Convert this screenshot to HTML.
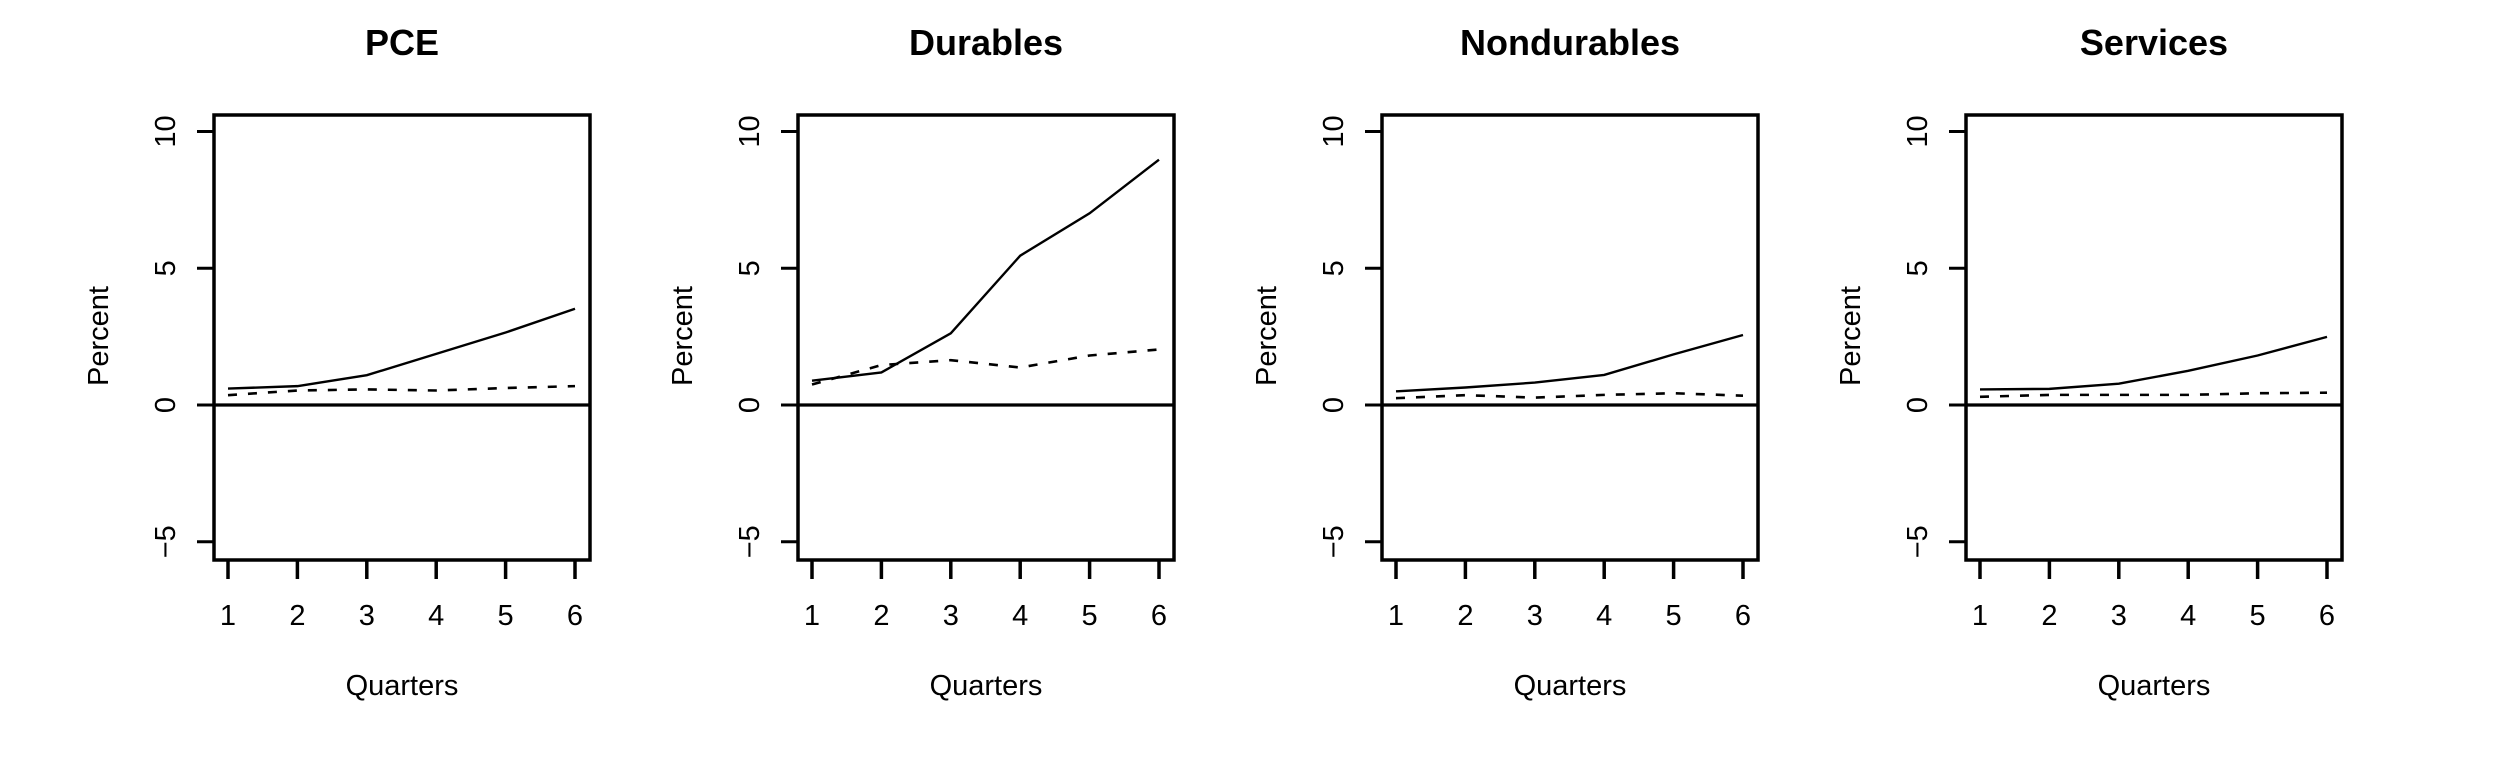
<!DOCTYPE html>
<html><head><meta charset="utf-8"><style>
html,body{margin:0;padding:0;background:#fff;}
svg{display:block;font-family:"Liberation Sans",Arial,sans-serif;}
</style></head><body>
<svg id="chart" width="2519" height="765" viewBox="0 0 2519 765" xmlns="http://www.w3.org/2000/svg"></svg>
<script>
const panelTitles = ["PCE", "Durables", "Nondurables", "Services"];
const quarters = [1, 2, 3, 4, 5, 6];
const yTicks = [-5, 0, 5, 10];
const solidPCE = [0.60, 0.69, 1.09, 1.87, 2.65, 3.52];
const dashedPCE = [0.36, 0.53, 0.57, 0.53, 0.62, 0.69];
const solidDurables = [0.89, 1.19, 2.62, 5.46, 7.01, 8.97];
const dashedDurables = [0.75, 1.46, 1.64, 1.37, 1.81, 2.03];
const solidNondurables = [0.50, 0.64, 0.82, 1.10, 1.85, 2.56];
const dashedNondurables = [0.25, 0.36, 0.27, 0.37, 0.43, 0.34];
const solidServices = [0.57, 0.59, 0.78, 1.25, 1.81, 2.49];
const dashedServices = [0.30, 0.37, 0.37, 0.37, 0.43, 0.45];
const solidSeries = [solidPCE, solidDurables, solidNondurables, solidServices];
const dashedSeries = [dashedPCE, dashedDurables, dashedNondurables, dashedServices];

const NS = "http://www.w3.org/2000/svg";
const svg = document.getElementById("chart");
function mk(tag, attrs, parent, text) {
  const e = document.createElementNS(NS, tag);
  for (const k in attrs) e.setAttribute(k, attrs[k]);
  if (text !== undefined) e.textContent = text;
  parent.appendChild(e);
  return e;
}
const boxW = 376, boxTop = 115, boxBot = 560;
const yScale = v => 405 - v * 27.35;
panelTitles.forEach((title, p) => {
  const L = 214 + p * 584;
  const xScale = q => L + 14 + (q - 1) * 69.4;
  const g = mk("g", {}, svg);
  
  
  const t = mk("text", {x: L + boxW / 2, y: 55, "text-anchor": "middle", "font-size": 36, "font-weight": "bold"}, g, title);
  
  
  // y axis ticks and labels
  yTicks.forEach(v => {
    const tk = mk("line", {x1: L - 17, x2: L, y1: yScale(v), y2: yScale(v), stroke: "#000", "stroke-width": 3}, g);
    
    
    const lb = mk("text", {transform: "translate(" + (L - 39) + "," + yScale(v) + ") rotate(-90)", "text-anchor": "middle", "font-size": 29}, g, v < 0 ? "\u2212" + Math.abs(v) : String(v));
    
    
  });
  quarters.forEach(q => {
    const tk = mk("line", {x1: xScale(q), x2: xScale(q), y1: boxBot, y2: boxBot + 19, stroke: "#000", "stroke-width": 3.5}, g);
    
    
    const lb = mk("text", {x: xScale(q), y: 625, "text-anchor": "middle", "font-size": 29}, g, String(q));
    
    
  });
  const xt = mk("text", {x: L + boxW / 2, y: 695, "text-anchor": "middle", "font-size": 29}, g, "Quarters");
  
  
  const yt = mk("text", {transform: "translate(" + (L - 106) + ",336) rotate(-90)", "text-anchor": "middle", "font-size": 29}, g, "Percent");
  
  
  const zl = mk("line", {x1: L, x2: L + boxW, y1: yScale(0), y2: yScale(0), stroke: "#000", "stroke-width": 3.2}, g);
  
  
  const sp = mk("polyline", {points: solidSeries[p].map((v, i) => xScale(quarters[i]) + "," + yScale(v)).join(" "), fill: "none", stroke: "#000", "stroke-width": 2.4}, g);
  
  
  const dp = mk("polyline", {points: dashedSeries[p].map((v, i) => xScale(quarters[i]) + "," + yScale(v)).join(" "), fill: "none", stroke: "#000", "stroke-width": 2.6, "stroke-dasharray": "9,11"}, g);
  
  
  const box = mk("rect", {x: L, y: boxTop, width: boxW, height: boxBot - boxTop, fill: "none", stroke: "#000", "stroke-width": 3.5}, g);
  
  
});
</script>
</body></html>
